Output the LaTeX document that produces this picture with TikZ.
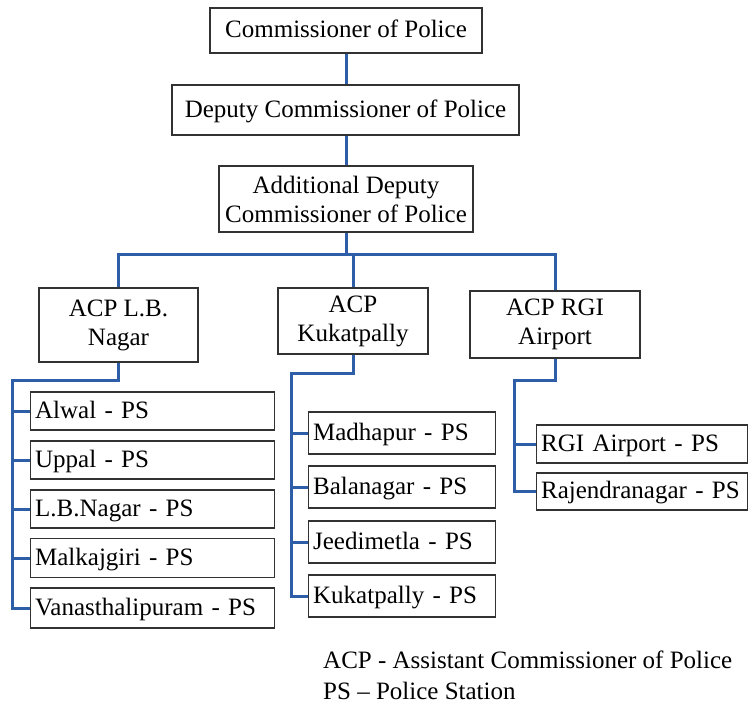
\documentclass[tikz,border=0pt]{standalone}
\usepackage{fontspec}
\setmainfont{Liberation Serif}
\definecolor{linkblue}{RGB}{47,94,168}
\definecolor{boxgray}{RGB}{50,50,50}
\begin{document}
\begin{tikzpicture}[x=1pt,y=-1pt,
  font=\fontsize{25}{29}\selectfont,
  box/.style={draw=boxgray, line width=1.3pt, inner sep=0pt, align=center},
  onebox/.style={box, text height=18pt, text depth=3pt},
  psbox/.style={draw=boxgray, line width=1.3pt, inner ysep=0pt, inner xsep=4.5pt,
    anchor=west, align=left, text height=18pt, text depth=4pt},
  link/.style={draw=linkblue, line width=3pt, line join=miter}]
\useasboundingbox (0,0) rectangle (749,703);

% upper chain of command
\node[onebox, minimum width=272pt, minimum height=45pt] (cp) at (346,30.5) {Commissioner of Police};
\node[onebox, minimum width=347pt, minimum height=50pt] (dcp) at (345.5,110) {Deputy Commissioner of Police};
\node[box, minimum width=254pt, minimum height=66pt] (adcp) at (346,199) {Additional Deputy\\Commissioner of Police};

% assistant commissioners
\node[box, minimum width=159pt, minimum height=74pt] (lbn) at (118.5,325) {ACP L.B.\\Nagar};
\node[box, minimum width=150pt, minimum height=66pt] (kuk) at (353,321) {ACP\\Kukatpally};
\node[box, minimum width=170pt, minimum height=67pt] (rgi) at (555,324.5) {ACP RGI\\Airport};

% L.B. Nagar stations
\node[psbox, text width=235pt, minimum height=38pt] (lb1) at (30,411) {Alwal - PS};
\node[psbox, text width=235pt, minimum height=38pt] (lb2) at (30,460) {Uppal - PS};
\node[psbox, text width=235pt, minimum height=38pt] (lb3) at (30,509) {L.B.Nagar - PS};
\node[psbox, text width=235pt, minimum height=39pt] (lb4) at (30,558) {Malkajgiri - PS};
\node[psbox, text width=235pt, minimum height=40pt] (lb5) at (30,608) {Vanasthalipuram - PS};

% Kukatpally stations
\node[psbox, text width=178pt, minimum height=42pt] (ku1) at (308,433) {Madhapur - PS};
\node[psbox, text width=178pt, minimum height=42pt] (ku2) at (308,487) {Balanagar - PS};
\node[psbox, text width=178pt, minimum height=42pt] (ku3) at (308,542) {Jeedimetla - PS};
\node[psbox, text width=178pt, minimum height=42pt] (ku4) at (308,596) {Kukatpally - PS};

% RGI Airport stations
\node[psbox, text width=202pt, minimum height=38pt] (rg1) at (536,444) {RGI Airport - PS};
\node[psbox, text width=202pt, minimum height=37pt] (rg2) at (536,491.5) {Rajendranagar - PS};

% legend (base anchor sits on the last line)
\node[anchor=base west, align=left, inner sep=0pt, font=\fontsize{25}{31}\selectfont] (legend) at (323,699)
  {ACP - Assistant Commissioner of Police\\PS – Police Station};

% connectors
\coordinate (bus) at (346,255);
\coordinate (lbj) at (12,380);
\coordinate (kuj) at (291,373);
\coordinate (rgj) at (514,380);

\draw[link] (cp.south) -- (cp.south |- dcp.north);
\draw[link] (dcp.south -| cp.south) -- (cp.south |- adcp.north);
\draw[link] (adcp.south) -- (bus);
\draw[link] (lbn.north) |- (bus) -| (rgi.north);
\draw[link] (kuk.north) -- (kuk.north |- bus);

\draw[link] (lbn.south) |- (lbj) |- (lb5.west);
\foreach \n in {lb1,lb2,lb3,lb4}
  \draw[link] (lbj |- \n.west) -- (\n.west);

\draw[link] (kuk.south) |- (kuj) |- (ku4.west);
\foreach \n in {ku1,ku2,ku3}
  \draw[link] (kuj |- \n.west) -- (\n.west);

\draw[link] (rgi.south) |- (rgj) |- (rg2.west);
\draw[link] (rgj |- rg1.west) -- (rg1.west);
\end{tikzpicture}
\end{document}
